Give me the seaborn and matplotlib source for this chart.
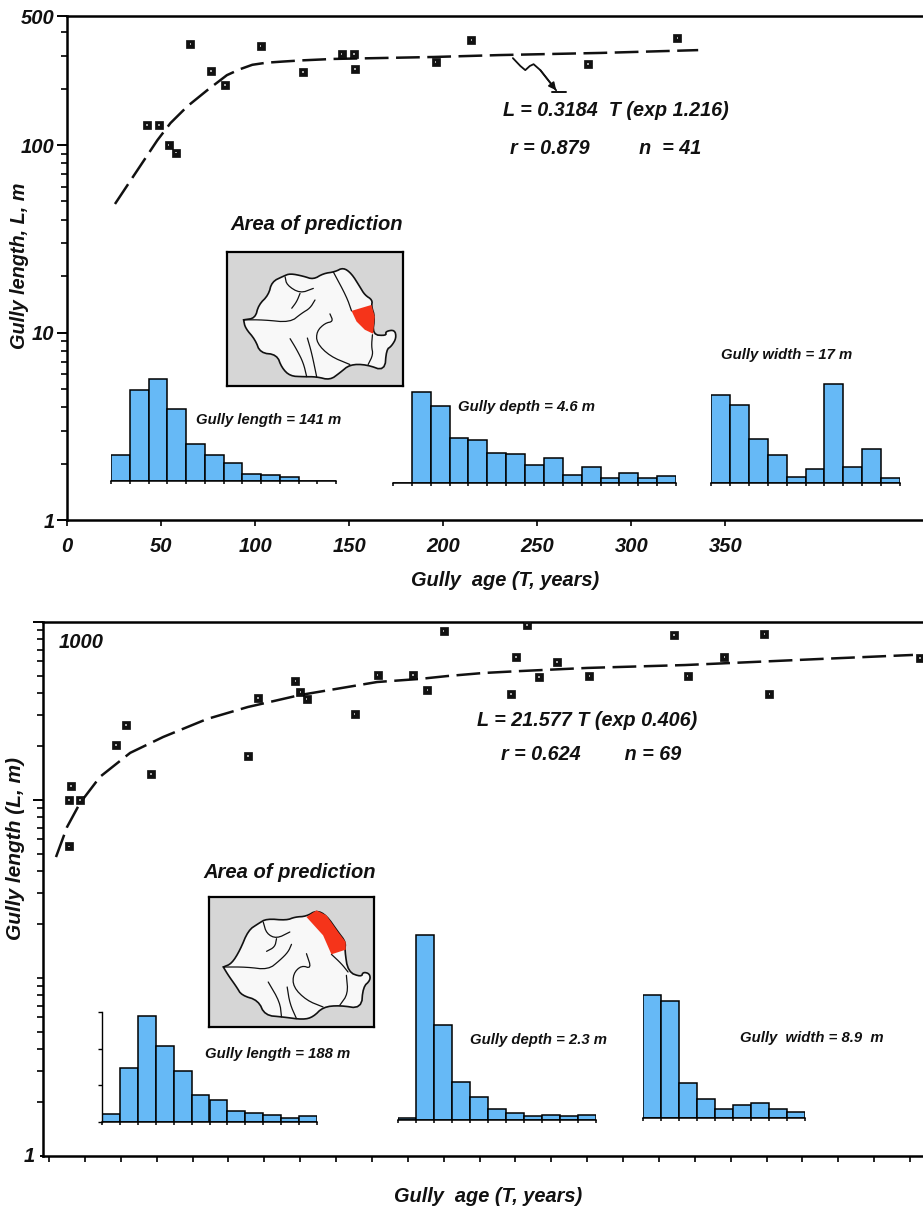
# Gully length vs age, two log panels with small histograms and location maps
import numpy as np
import seaborn as sns
import matplotlib.pyplot as plt

W, H = 923, 1209

# ---- top panel data
top_age = [42.5, 49, 54, 58, 65.5, 76.5, 84, 103, 125.5, 146, 152.5, 153, 196, 215, 277, 324.5]
top_len = [128, 128, 100, 91, 346, 248, 209, 337, 245, 306, 306, 254, 277, 363, 270, 372]
top_fit_age = [25.5, 35, 48, 55, 64, 74.5, 85, 92, 98.5, 106, 115, 125, 141.5, 165, 195, 230, 283.5, 335.5]
top_fit_len = [48.5, 67.5, 106, 131, 161, 196, 236, 254, 268, 275, 279, 283, 288, 291, 295, 302, 310, 321]
squiggle_age = [237, 241, 243.6, 246, 248, 251.6, 260]
squiggle_len = [291, 264, 251, 264, 270, 251, 196]
stop_age = [258, 265]
stop_len = [192, 192]
top_xticks = [0, 50, 100, 150, 200, 250, 300, 350]

# ---- bottom panel data
bot_age = [27.7, 27.7, 30.5, 43, 93, 107, 142, 277, 291, 343, 350, 359, 426, 458, 507, 527,
           550, 666, 651, 644, 683, 708, 753, 871, 890, 941, 997, 1004, 1214]
bot_len = [55, 100, 120, 100, 204, 264, 140, 177, 374, 466, 404, 369, 304, 504, 504, 415,
           890, 962, 636, 394, 491, 596, 497, 845, 497, 636, 856, 394, 628]
bot_fit_age = [9.6, 25, 43, 71, 113, 159, 220, 277, 350, 457, 517, 555, 605, 656, 750, 886, 981, 1075, 1204]
bot_fit_len = [47.8, 70.5, 96, 135, 184, 226, 285, 333, 389, 460, 479, 497, 517, 530, 552, 573, 596, 620, 653]
bot_xticks = list(range(0, 1250, 50))

# ---- histogram heights
h_top_length = [25.7, 90.7, 102.3, 72.3, 37.3, 25.7, 18, 7.3, 5.7, 4, 0, 0]
h_top_depth = [0, 91.5, 77, 45.4, 43, 30.5, 28.8, 18.3, 25.4, 8.5, 16, 5.4, 10.5, 5.4, 6.8]
h_top_width = [87.8, 77.6, 43.7, 27.8, 6.1, 13.6, 98.6, 15.9, 34.2, 5.4]
h_bot_length = [6.8, 44, 87, 62, 41.5, 22.3, 18, 9.3, 7.1, 5.7, 3, 4.7]
h_bot_depth = [2, 185.5, 95, 38, 23.4, 10.7, 7.2, 4.5, 4.8, 3.8, 4.8]
h_bot_width = [122.8, 116.6, 35.2, 19, 9.3, 12.8, 15.5, 8.6, 5.9]

# ---- map outlines, panel units
map1_outline = [(460,240),(495,235),(505,195),(535,165),(545,125),(580,108),(600,100),(640,108),(670,118),
                (700,100),(735,95),(760,82),(785,100),(810,140),(825,165),(848,180),(845,200),(855,230),
                (848,285),(890,288),(887,275),(915,270),(920,295),(905,320),(890,330),(885,395),(830,375),
                (780,375),(750,400),(720,422),(680,412),(640,412),(600,410),(575,385),(560,345),(510,340),
                (495,300),(465,265),(460,240)]
map1_red = [(785,213),(845,195),(855,230),(850,282),(825,270),(800,245)]
map1_rivers = [[(460,240),(520,240),(600,248),(635,220),(660,205),(675,180)],
               [(585,110),(590,135),(630,160),(670,145)],
               [(630,160),(620,185),(605,205)],
               [(730,95),(770,170),(785,213)],
               [(720,222),(730,245),(705,250),(680,275),(680,310),(720,350),(780,375)],
               [(600,297),(620,330),(640,370),(650,412)],
               [(652,295),(665,340),(680,412)],
               [(848,285),(845,320),(850,345),(835,375)]]
map2_outline = [(550,260),(575,250),(600,210),(625,150),(655,130),(680,115),(740,120),(765,110),(800,108),
                (830,90),(860,105),(895,155),(918,185),(915,210),(925,275),(965,290),(970,275),(990,280),
                (992,300),(970,320),(965,385),(900,375),(850,380),(820,410),(790,418),(730,410),(675,405),
                (655,360),(605,345),(590,320),(565,285),(550,260)]
map2_red = [(800,110),(830,90),(860,105),(895,155),(918,185),(918,208),(875,222),(850,165)]
map2_rivers = [[(550,260),(620,260),(685,268),(720,240),(745,215),(755,192)],
               [(670,125),(680,160),(710,175),(750,155)],
               [(710,175),(705,200),(680,213)],
               [(800,220),(815,265),(785,255),(760,280),(760,320),(800,360),(850,380)],
               [(685,305),(720,365),(725,410)],
               [(742,320),(750,370),(770,415)],
               [(875,222),(905,250),(925,275)],
               [(920,285),(925,340),(900,375)]]

sns.set_style("ticks", {'axes.edgecolor': 'black', 'xtick.color': 'black', 'ytick.color': 'black'})
plt.rcParams['font.family'] = ['Liberation Sans', 'DejaVu Sans']
plt.rcParams['font.weight'] = 'bold'
plt.rcParams['font.style'] = 'italic'
TXT = '#111111'
BLUE = '#66B9F6'

fig = plt.figure(figsize=(W / 100, H / 100), dpi=100, facecolor='white')


def box(left, top, right, bottom):
    return [left / W, 1 - bottom / H, (right - left) / W, (bottom - top) / H]


def put(x, y, s, size, **kw):
    fig.text(x / W, 1 - y / H, s, fontsize=size, color=TXT, ha='center', va='center',
             fontweight='bold', fontstyle='italic', **kw)


def rounded(points, passes=2):
    # corner cutting so the hand drawn map lines are not angular
    p = np.array(points, dtype=float)
    for _ in range(passes):
        q = 0.75 * p[:-1] + 0.25 * p[1:]
        r = 0.25 * p[:-1] + 0.75 * p[1:]
        mid = np.empty((len(q) * 2, 2))
        mid[0::2] = q
        mid[1::2] = r
        p = np.vstack([p[:1], mid, p[-1:]])
    return p


def panel(rect, ages, lens, fit_age, fit_len, xlim, ylim, xticks, ylabels):
    ax = fig.add_axes(box(*rect))
    sns.lineplot(x=fit_age, y=fit_len, color='#111111', lw=1.8, ax=ax, sort=False,
                 dashes=False, linestyle=(0, (9.5, 3)))
    sns.scatterplot(x=ages, y=lens, marker='s', s=32, color='#111111', edgecolor='black', ax=ax, zorder=4)
    sns.scatterplot(x=ages, y=lens, marker='s', s=1, color='#AAAAAA', edgecolor='none', ax=ax, zorder=5)
    ax.set_yscale('log')
    ax.set_xlim(*xlim)
    ax.set_ylim(*ylim)
    ax.set_xticks(xticks)
    ax.set_yticks(list(ylabels))
    ax.set_yticklabels(list(ylabels.values()), fontsize=14.5, color=TXT)
    ax.yaxis.set_minor_locator(plt.LogLocator(base=10, subs=range(1, 10), numticks=12))
    ax.yaxis.set_minor_formatter(plt.NullFormatter())
    ax.tick_params(axis='y', which='major', length=7, width=1.4, pad=2)
    ax.tick_params(axis='y', which='minor', length=4.5, width=1.2)
    ax.tick_params(axis='x', which='major', length=4, width=1.2)
    ax.spines['right'].set_visible(False)
    for s in ['left', 'top', 'bottom']:
        ax.spines[s].set_linewidth(1.8)
    return ax


def hist(rect, heights, ymax, yticks=None):
    ax = fig.add_axes(box(*rect))
    ax.patch.set_alpha(0)
    n = len(heights)
    sns.histplot(x=np.arange(n), weights=heights, discrete=True, color=BLUE, edgecolor='black',
                 linewidth=1.1, alpha=1, ax=ax)
    ax.set_xlim(-0.5, n - 0.5)
    ax.set_ylim(0, ymax)
    ax.set_xticks(np.arange(n + 1) - 0.5)
    ax.set_xticklabels([])
    ax.set_xlabel('')
    ax.set_ylabel('')
    ax.tick_params(axis='x', length=2.5, width=1.1, pad=1)
    ax.spines['top'].set_visible(False)
    ax.spines['right'].set_visible(False)
    ax.spines['bottom'].set_linewidth(1.1)
    if yticks is None:
        ax.spines['left'].set_visible(False)
        ax.set_yticks([])
    else:
        ax.set_yticks(yticks)
        ax.set_yticklabels([])
        ax.tick_params(axis='y', length=3, width=1.0)
        ax.spines['left'].set_linewidth(1.0)


def romania(rect, outline, red, rivers, xlim, ylim):
    ax = fig.add_axes(box(*rect))
    ax.set_facecolor('#D6D6D6')
    ax.fill(*rounded(outline).T, facecolor='#F8F8F8', edgecolor='#111111', lw=1.2)
    ax.fill(*zip(*red), facecolor='#F5341A', edgecolor='none', zorder=3)
    for r in rivers:
        ax.plot(*rounded(r).T, color='#111111', lw=0.9)
    ax.set_xlim(*xlim)
    ax.set_ylim(*ylim)
    ax.set_xticks([])
    ax.set_yticks([])
    for s in ax.spines.values():
        s.set_linewidth(1.6)


# ---- top panel (the original's top line sits a little under its 500 label position)
ax1 = panel((67, 16, 923, 520), top_age, top_len, top_fit_age, top_fit_len, (0, 455), (1, 488),
            top_xticks, {1: '1', 10: '10', 100: '100', 488: '500'})
ax1.set_xticklabels([str(t) for t in top_xticks], fontsize=14.5, color=TXT)
ax1.tick_params(axis='x', pad=8)
ax1.plot(squiggle_age, squiggle_len, color='#111111', lw=1.3)
ax1.plot(stop_age, stop_len, color='#111111', lw=1.4)
ax1.annotate('', xy=(squiggle_age[-1], squiggle_len[-1]), xytext=(squiggle_age[-2], squiggle_len[-2]),
             arrowprops=dict(arrowstyle='-|>', color='#111111', lw=1.2, mutation_scale=11, shrinkA=0, shrinkB=0))

put(20, 266, 'Gully length, L, m', 14.3, rotation=90)
put(505, 580, 'Gully  age (T, years)', 14.4)
put(616, 111, 'L = 0.3184  T (exp 1.216)', 14.2)
put(606, 149, 'r = 0.879         n  = 41', 14.2)
put(317, 224, 'Area of prediction', 14.5)

romania((227, 252, 403, 386), map1_outline, map1_red, map1_rivers, (410, 940), (440, 35))
hist((111, 360, 336, 481), h_top_length, 121)
hist((393, 370, 676, 483), h_top_depth, 113)
hist((711, 360, 900, 483), h_top_width, 123)
put(269, 420, 'Gully length = 141 m', 10.7)
put(527, 407, 'Gully depth = 4.6 m', 10.7)
put(787, 355, 'Gully width = 17 m', 10.7)

# ---- bottom panel
ax2 = panel((43, 622, 923, 1156), bot_age, bot_len, bot_fit_age, bot_fit_len, (-8.5, 1218), (1, 1000),
            bot_xticks, {1: '', 100: '', 1000: ''})
ax2.set_xticklabels([])
ax2.yaxis.get_major_ticks()[0].tick1line.set_markersize(2.5)
put(29, 1157, '1', 14.5)
put(81, 643, '1000', 14.5)

put(16, 849, 'Gully length (L, m)', 15, rotation=90)
put(488, 1197, 'Gully  age (T, years)', 14.4)
put(587, 721, 'L = 21.577 T (exp 0.406)', 14.2)
put(591, 755, 'r = 0.624        n = 69', 14.2)
put(290, 872, 'Area of prediction', 14.5)

romania((209, 897, 374, 1027), map2_outline, map2_red, map2_rivers, (507, 1003), (440, 50))
hist((102, 1012, 317, 1122), h_bot_length, 90, yticks=[0, 30, 60, 90])
hist((398, 930, 596, 1120), h_bot_depth, 190)
hist((643, 990, 805, 1118), h_bot_width, 128)
put(278, 1054, 'Gully length = 188 m', 10.7)
put(538, 1040, 'Gully depth = 2.3 m', 10.7)
put(812, 1038, 'Gully  width = 8.9  m', 10.7)

fig.savefig('out.png', dpi=100)
